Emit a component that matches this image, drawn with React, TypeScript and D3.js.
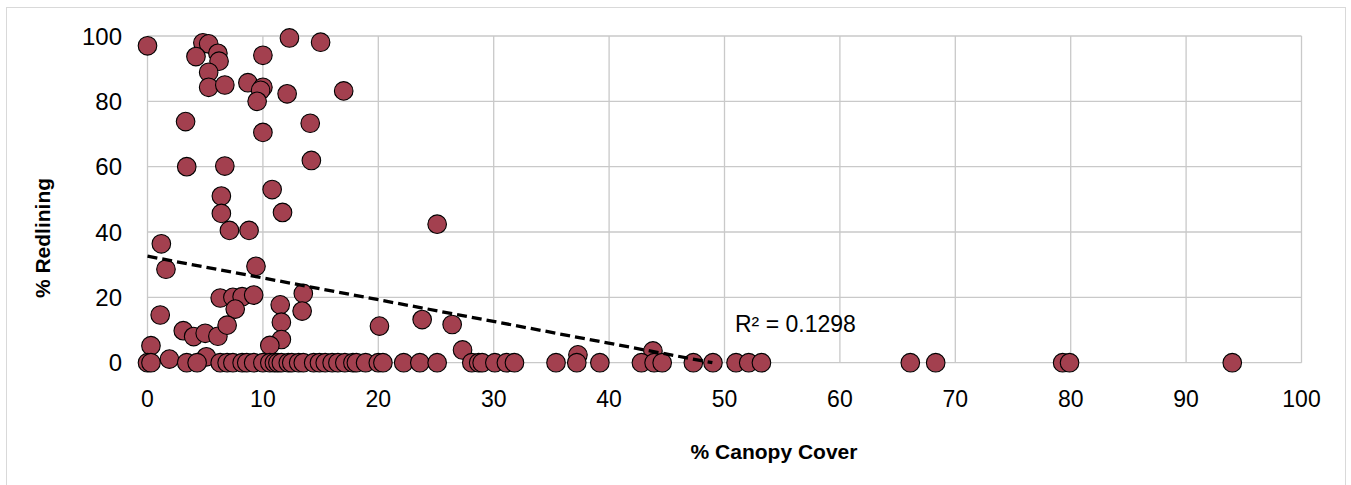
import React from "react";
import * as d3 from "d3";

// % Canopy Cover (x) and % Redlining (y) per tract
const canopy: number[] = [
  0, 4.8, 5.3, 4.2, 6.1, 6.2, 5.3, 5.3, 6.7, 8.7, 10.0, 9.8, 9.5, 10.0, 12.3, 15.0, 12.1, 17.0,
  3.3, 14.1, 10.0, 3.4, 6.7, 14.2, 6.4, 10.8, 6.4, 11.7, 7.1, 8.8, 25.1, 1.2, 1.6, 9.4,
  6.3, 7.4, 8.2, 9.2, 7.6, 11.5, 13.5, 13.4, 11.6, 11.6, 10.6, 1.1, 3.1, 4.0, 5.0, 6.1, 6.9,
  0.3, 20.1, 23.8, 26.4, 27.3, 5.1, 1.9, 37.3, 43.8,
  0, 0.3, 3.4, 4.3, 6.3, 6.9, 7.4, 8.2, 8.6, 9.2, 10.0, 10.6, 11.0, 11.3, 11.6, 12.2, 12.5,
  13.1, 13.5, 14.4, 14.9, 15.4, 16.0, 16.5, 17.1, 17.8, 18.1, 18.9, 20.0, 20.4, 22.2, 23.6,
  25.1, 28.1, 28.7, 29.0, 30.1, 31.1, 31.8, 35.4, 37.2, 39.2, 42.8, 43.9, 44.6, 47.3, 49.0,
  51.0, 52.1, 53.2, 66.1, 68.3, 79.3, 79.9, 94.0,
];
const redlining: number[] = [
  97, 97.9, 97.6, 93.7, 94.7, 92.3, 88.9, 84.3, 85.0, 85.7, 84.3, 83.4, 80.0, 94.1, 99.4, 98.1, 82.3, 83.2,
  73.8, 73.3, 70.5, 60.0, 60.2, 61.9, 51.0, 53.0, 45.7, 46.0, 40.5, 40.5, 42.4, 36.4, 28.6, 29.5,
  19.8, 20.0, 20.2, 20.7, 16.4, 17.7, 21.2, 15.8, 12.4, 7.1, 5.3, 14.6, 9.8, 8.0, 9.0, 8.1, 11.5,
  5.2, 11.2, 13.2, 11.7, 3.9, 1.8, 1.1, 2.4, 3.6,
  0, 0, 0, 0, 0, 0, 0, 0, 0, 0, 0, 0, 0, 0, 0, 0, 0,
  0, 0, 0, 0, 0, 0, 0, 0, 0, 0, 0, 0, 0, 0, 0,
  0, 0, 0, 0, 0, 0, 0, 0, 0, 0, 0, 0, 0, 0, 0,
  0, 0, 0, 0, 0, 0, 0, 0,
];

const xTicks: number[] = [0, 10, 20, 30, 40, 50, 60, 70, 80, 90, 100];
const yTicks: number[] = [0, 20, 40, 60, 80, 100];

// Linear trendline (as shown by the chart)
const trendIntercept = 32.6;
const trendSlope = -0.666;
const rSquaredLabel = "R² = 0.1298";

const xTitle = "% Canopy Cover";
const yTitle = "% Redlining";

export default function App() {
  const W = 1351;
  const H = 485;
  const x = d3.scaleLinear().domain([0, 100]).range([147.5, 1301.5]);
  const y = d3.scaleLinear().domain([0, 100]).range([362.7, 36]);

  const points = canopy.map((c, i) => ({ c, r: redlining[i] }));

  const xEnd = Math.min(100, -trendIntercept / trendSlope);
  const trendData: [number, number][] = [
    [0, trendIntercept],
    [xEnd, trendIntercept + trendSlope * xEnd],
  ];
  const line = d3
    .line<[number, number]>()
    .x((d) => x(d[0]))
    .y((d) => y(d[1]));

  const grid = "#c9c9c9";
  const font = "'Liberation Sans', Arial, sans-serif";

  return (
    <div style={{ position: "absolute", left: 0, top: 0 }}>
      <svg width={W} height={H} style={{ display: "block", background: "#fff" }}>
        <rect x={6.5} y={7.5} width={1339} height={490} fill="#fff" stroke="#d9d9d9" strokeWidth={1} />
        {yTicks.map((t) => (
          <line key={"gy" + t} x1={x(0)} x2={x(100)} y1={y(t)} y2={y(t)} stroke={grid} strokeWidth={1.3} />
        ))}
        {xTicks.map((t) => (
          <line key={"gx" + t} x1={x(t)} x2={x(t)} y1={y(0)} y2={y(100)} stroke={grid} strokeWidth={1.3} />
        ))}
        {yTicks.map((t) => (
          <text key={"ty" + t} x={122} y={y(t) + 8.6} textAnchor="end" fontFamily={font} fontSize={24} fill="#000">
            {t}
          </text>
        ))}
        {xTicks.map((t) => (
          <text key={"tx" + t} x={x(t)} y={406.5} textAnchor="middle" fontFamily={font} fontSize={23} fill="#000">
            {t}
          </text>
        ))}
        {points.map((p, i) => (
          <circle key={i} cx={x(p.c)} cy={y(p.r)} r={9.3} fill="#a3404f" stroke="#000" strokeWidth={1.1} />
        ))}
        <path d={line(trendData) || ""} fill="none" stroke="#000" strokeWidth={3.3} strokeDasharray="10,5" />
        <text x={735} y={331.7} fontFamily={font} fontSize={23} fill="#000">
          {rSquaredLabel}
        </text>
        <text x={774} y={459} textAnchor="middle" fontFamily={font} fontSize={21} fontWeight="bold" fill="#000">
          {xTitle}
        </text>
        <text
          x={0}
          y={0}
          transform={`translate(49.5,238) rotate(-90)`}
          textAnchor="middle"
          fontFamily={font}
          fontSize={21}
          fontWeight="bold"
          fill="#000"
        >
          {yTitle}
        </text>
      </svg>
    </div>
  );
}
